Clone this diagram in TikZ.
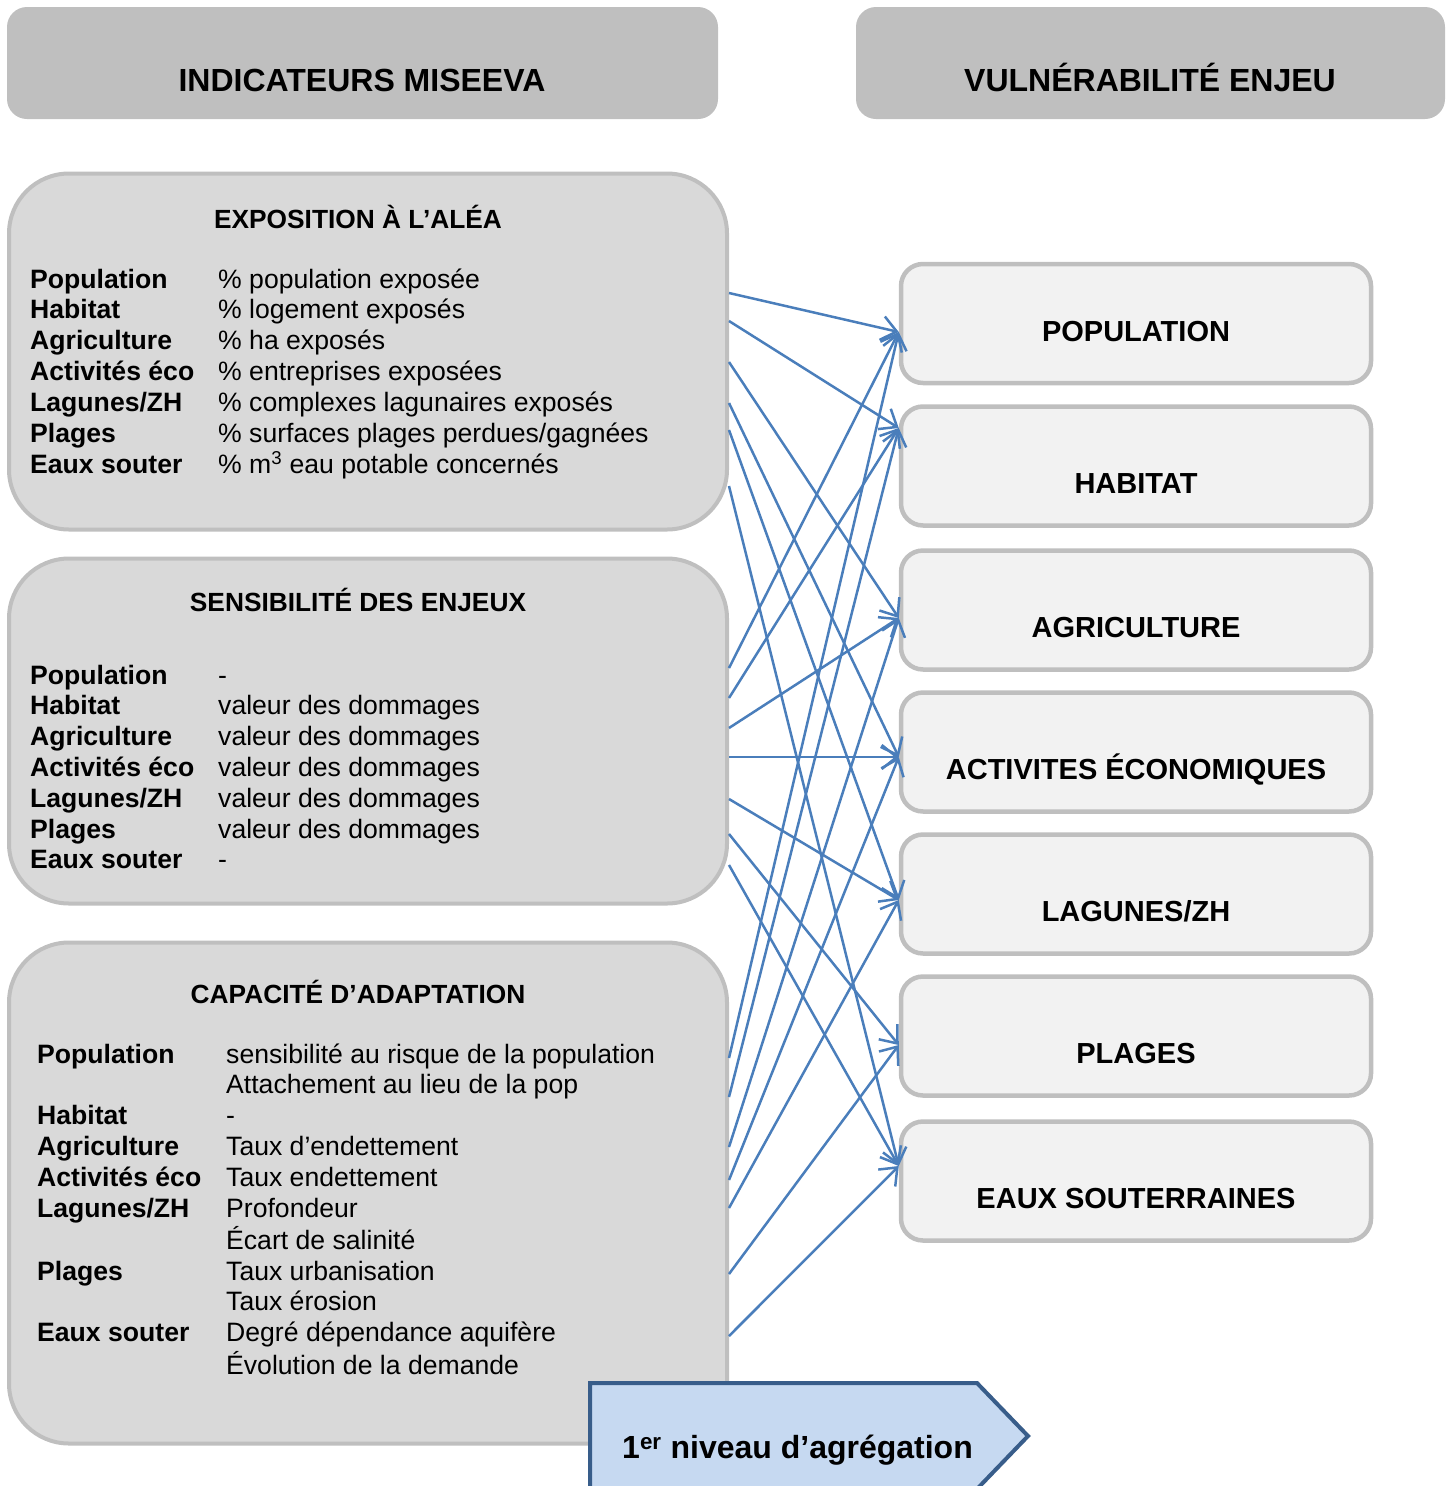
\documentclass[tikz,border=0pt]{standalone}
\usepackage{fontspec}
\setmainfont{Liberation Sans}
\usetikzlibrary{arrows.meta}

\definecolor{hdrgray}{HTML}{BFBFBF}
\definecolor{boxgray}{HTML}{D9D9D9}
\definecolor{edgegray}{HTML}{BFBFBF}
\definecolor{tgtfill}{HTML}{F2F2F2}
\definecolor{linkblue}{HTML}{4A7EBB}
\definecolor{pentfill}{HTML}{C6D9F1}
\definecolor{pentedge}{HTML}{385D8A}

\newcommand\hdrfont{\fontsize{32}{38}\selectfont\bfseries}
\newcommand\ttlfont{\fontsize{26.3}{31}\selectfont\bfseries}
\newcommand\rowfont{\fontsize{26.6}{30.8}\selectfont}
\newcommand\tgtfont{\fontsize{29}{34}\selectfont\bfseries}
\newcommand\pentfont{\fontsize{32}{38}\selectfont\bfseries}

\begin{document}
\begin{tikzpicture}[x=1pt,y=-1pt,
  hdr/.style={fill=hdrgray, rounded corners=20pt, minimum height=112pt, inner sep=0pt},
  group/.style={draw=edgegray, line width=4pt, fill=boxgray, rounded corners=60pt, minimum width=718pt, inner sep=0pt},
  target/.style={draw=edgegray, line width=4.5pt, fill=tgtfill, rounded corners=22pt, minimum width=470pt, minimum height=119pt, inner sep=0pt},
  txt/.style={inner sep=0pt, anchor=base},
  rows/.style={inner sep=0pt, anchor=base west, align=left},
  link/.style={draw=linkblue, line width=2.5pt, -{Straight Barb[length=15pt, width=24pt, line width=2.5pt]}},
  pent/.style={draw=pentedge, line width=4pt, fill=pentfill, line join=miter}
]
\useasboundingbox (0,0) rectangle (1453,1486);

% column headers
\node[hdr, minimum width=711pt] (hleft) at (362.5,63) {};
\node[txt] (hlefttxt) at (362,91.5) {\hdrfont INDICATEURS MISEEVA};
\node[hdr, minimum width=589pt] (hright) at (1150.5,63) {};
\node[txt] (hrighttxt) at (1150,91.5) {\hdrfont VULNÉRABILITÉ ENJEU};

% indicator groups
\node[group, minimum height=356pt] (expo) at (368,351.5) {};
\node[txt] (expottl) at (358,228) {\ttlfont EXPOSITION À L’ALÉA};
\node[rows] (exporows) at (30,288) {\rowfont
  \begin{tabular}[t]{@{}p{188pt}@{}l@{}}
  \textbf{Population} & \% population exposée\\
  \textbf{Habitat} & \% logement exposés\\
  \textbf{Agriculture} & \% ha exposés\\
  \textbf{Activités éco} & \% entreprises exposées\\
  \textbf{Lagunes/ZH} & \% complexes lagunaires exposés\\
  \textbf{Plages} & \% surfaces plages perdues/gagnées\\
  \textbf{Eaux souter} & \% m\textsuperscript{3} eau potable concernés
  \end{tabular}};

\node[group, minimum height=345pt] (sens) at (368,731) {};
\node[txt] (sensttl) at (358,611) {\ttlfont SENSIBILITÉ DES ENJEUX};
\node[rows] (sensrows) at (30,684) {\rowfont
  \begin{tabular}[t]{@{}p{188pt}@{}l@{}}
  \textbf{Population} & -\\
  \textbf{Habitat} & valeur des dommages\\
  \textbf{Agriculture} & valeur des dommages\\
  \textbf{Activités éco} & valeur des dommages\\
  \textbf{Lagunes/ZH} & valeur des dommages\\
  \textbf{Plages} & valeur des dommages\\
  \textbf{Eaux souter} & -
  \end{tabular}};

\node[group, minimum height=501pt] (capa) at (368,1193) {};
\node[txt] (capattl) at (358,1003) {\ttlfont CAPACITÉ D’ADAPTATION};
\node[rows] (caparows) at (37,1063) {\rowfont
  \begin{tabular}[t]{@{}p{189pt}@{}l@{}}
  \textbf{Population} & sensibilité au risque de la population\\
   & Attachement au lieu de la pop\\
  \textbf{Habitat} & -\\
  \textbf{Agriculture} & Taux d’endettement\\
  \textbf{Activités éco} & Taux endettement\\
  \textbf{Lagunes/ZH} & Profondeur\\
   & Écart de salinité\\
  \textbf{Plages} & Taux urbanisation\\
   & Taux érosion\\
  \textbf{Eaux souter} & Degré dépendance aquifère\\
   & Évolution de la demande
  \end{tabular}};

% vulnerability targets
\node[target] (tpop) at (1136,323.5) {};
\node[txt] (tpoptxt) at (1136,341.5) {\tgtfont POPULATION};
\node[target] (thab) at (1136,466) {};
\node[txt] (thabtxt) at (1136,493.5) {\tgtfont HABITAT};
\node[target] (tagr) at (1136,610) {};
\node[txt] (tagrtxt) at (1136,637.5) {\tgtfont AGRICULTURE};
\node[target] (tact) at (1136,752) {};
\node[txt] (tacttxt) at (1136,779.5) {\tgtfont ACTIVITES ÉCONOMIQUES};
\node[target] (tlag) at (1136,894) {};
\node[txt] (tlagtxt) at (1136,921.5) {\tgtfont LAGUNES/ZH};
\node[target] (tpla) at (1136,1036) {};
\node[txt] (tplatxt) at (1136,1063.5) {\tgtfont PLAGES};
\node[target] (teau) at (1136,1181) {};
\node[txt] (teautxt) at (1136,1208.5) {\tgtfont EAUX SOUTERRAINES};

% connector ports on the group edges
\coordinate (e1) at (expo.east |- 0,293);
\coordinate (e2) at (expo.east |- 0,321);
\coordinate (e3) at (expo.east |- 0,362);
\coordinate (e4) at (expo.east |- 0,403);
\coordinate (e5) at (expo.east |- 0,430);
\coordinate (e6) at (expo.east |- 0,486);
\coordinate (s1) at (sens.east |- 0,668);
\coordinate (s2) at (sens.east |- 0,698);
\coordinate (s3) at (sens.east |- 0,728);
\coordinate (s4) at (sens.east |- 0,757);
\coordinate (s5) at (sens.east |- 0,799);
\coordinate (s6) at (sens.east |- 0,834);
\coordinate (s7) at (sens.east |- 0,865);
\coordinate (c1) at (capa.east |- 0,1058);
\coordinate (c2) at (capa.east |- 0,1097);
\coordinate (c3) at (capa.east |- 0,1147);
\coordinate (c4) at (capa.east |- 0,1180);
\coordinate (c5) at (capa.east |- 0,1208);
\coordinate (c6) at (capa.east |- 0,1274);
\coordinate (c7) at (capa.east |- 0,1336);
% connector ports on the targets
\coordinate (ppop) at (tpop.west |- 0,332);
\coordinate (phab) at (thab.west |- 0,428);
\coordinate (pagr) at (tagr.west |- 0,618);
\coordinate (pact) at (tact.west |- 0,757);
\coordinate (plag) at (tlag.west |- 0,900);
\coordinate (ppla) at (tpla.west |- 0,1045);
\coordinate (peau) at (teau.west |- 0,1166);

% links
\draw[link] (e1) -- (ppop);
\draw[link] (e2) -- (phab);
\draw[link] (e3) -- (pagr);
\draw[link] (e4) -- (pact);
\draw[link] (e5) -- (plag);
\draw[link] (e6) -- (peau);
\draw[link] (s1) -- (ppop);
\draw[link] (s2) -- (phab);
\draw[link] (s3) -- (pagr);
\draw[link] (s4) -- (pact);
\draw[link] (s5) -- (plag);
\draw[link] (s6) -- (ppla);
\draw[link] (s7) -- (peau);
\draw[link] (c1) -- (ppop);
\draw[link] (c2) -- (phab);
\draw[link] (c3) -- (pagr);
\draw[link] (c4) -- (pact);
\draw[link] (c5) -- (plag);
\draw[link] (c6) -- (ppla);
\draw[link] (c7) -- (peau);

% aggregation level tag
\draw[pent] (590,1383) -- (977,1383) -- (1028,1436) -- (977,1489) -- (590,1489) -- cycle;
\node[inner sep=0pt, anchor=base west] (level) at (622,1458.5) {\pentfont 1\textsuperscript{er} niveau d’agrégation};
\end{tikzpicture}
\end{document}
